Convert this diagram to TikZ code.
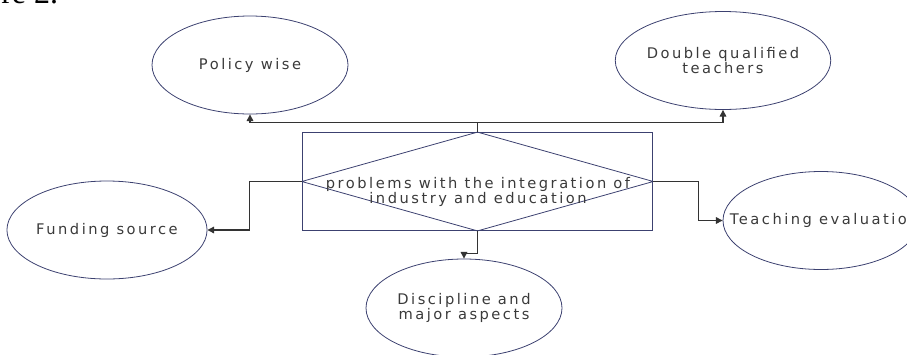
\documentclass[tikz,border=0pt]{standalone}
\usepackage{fontspec}
\setmainfont{DejaVu Sans}[LetterSpace=17]
\newfontfamily\capfont{Liberation Serif}
\usetikzlibrary{shapes.geometric,arrows.meta}

\definecolor{edgeblue}{HTML}{3C4170}
\definecolor{linegray}{HTML}{333333}
\definecolor{textgray}{HTML}{3A3A3A}

\tikzset{
	aspect/.style={ellipse, draw=edgeblue, line width=0.6pt, minimum width=147pt, minimum height=73.5pt,
		inner sep=0pt, align=center, text=textgray, font=\fontsize{11}{11.25}\selectfont},
	link/.style={draw=linegray, line width=0.8pt, -{Triangle[length=5pt,width=5pt]}},
}

\begin{document}
\begin{tikzpicture}[x=0.75pt,y=-0.75pt]
	 \useasboundingbox (0,0) rectangle (907,354);
	 % cut-off caption at the top
	 \node[anchor=base west, inner sep=0pt, font=\capfont\fontsize{24}{24}\selectfont] (caption) at (1,3.5) {re 2.};
	 %
	 \node[draw=edgeblue, line width=0.6pt, minimum width=263pt, minimum height=73.5pt, inner sep=0pt] (problems) at (477.5,181.5) {};
	 \draw[edgeblue, line width=0.6pt] (problems.north) -- (problems.east) -- (problems.south) -- (problems.west) -- cycle;
	 \node[align=center, text=textgray, font=\fontsize{11}{11.25}\selectfont] (problemstext) at (478,191.5) {problems with the integration of\\industry and education};
	 %
	 \node[aspect] (policy) at (250,65) {Policy wise};
	 \node[aspect] (teachers) at (723,60.5) {Double qualified\\teachers};
	 \node[aspect] (funding) at (107,230) {Funding source};
	 \node[aspect] (discipline) at (464,308) {Discipline and\\major aspects};
	 \node[aspect] (evaluation) at (821,220.5) {\makebox[0pt]{\hspace{5pt}Teaching evaluation}};
	 %
	 \draw[link] (problems.north) -- ++(0,-10) -| (policy.south);
	 \draw[link] (problems.north) -- ++(0,-10) -| (teachers.south);
	 \draw[link] (problems.west) -- ++(-52,0) |- (funding.east);
	 \draw[link] (problems.south) -- ++(0,23) -| (discipline.north);
	 \draw[link] (problems.east) -- ++(45,0) |- (evaluation.west);
\end{tikzpicture}
\end{document}
